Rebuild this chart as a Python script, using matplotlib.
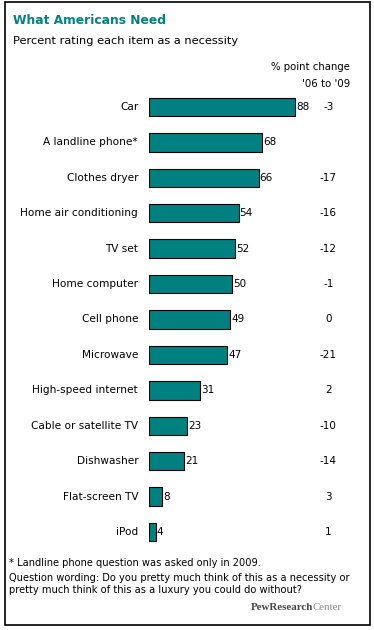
import matplotlib.pyplot as plt
import numpy as np

## -- chart data
items = ["Car", "A landline phone*", "Clothes dryer", "Home air conditioning",
         "TV set", "Home computer", "Cell phone", "Microwave",
         "High-speed internet", "Cable or satellite TV", "Dishwasher",
         "Flat-screen TV", "iPod"]
pct = [88, 68, 66, 54, 52, 50, 49, 47, 31, 23, 21, 8, 4]
change = ["-3", "", "-17", "-16", "-12", "-1", "0", "-21", "2", "-10", "-14", "3", "1"]

teal = '#008080'
W, H = 374, 630
fig = plt.figure(figsize=(W/100., H/100.), dpi=100)
fig.patch.set_facecolor('white')

## -- frame around whole graphic
frame = plt.Rectangle((5/W, 1-625/H), 365/W, 623/H, transform=fig.transFigure,
                      fill=False, ec='black', lw=1.2)
fig.patches.append(frame)

## -- bar axes (pixel layout: left 149, 1.66 px per point)
n = len(items)
top, bot = 107 - 17.7, 532 + 17.7
axp = fig.add_axes([149/W, 1-bot/H, 166/W, (bot-top)/H])
ypos = np.arange(n)
axp.barh(ypos, pct, height=0.52, color=teal, edgecolor='black', lw=0.8)
axp.set_xlim(0, 100)
axp.set_ylim(n-0.5, -0.5)
axp.axis('off')
for y, v, lab in zip(ypos, pct, items):
  axp.text(v+0.6, y, str(v), va='center', ha='left', fontsize=7.5)
  axp.text(-6.5, y, lab, va='center', ha='right', fontsize=7.6)

## -- change column
for y, c in zip(ypos, change):
  axp.text(108, y, c, va='center', ha='center', fontsize=7.5, clip_on=False)

## -- headings
fig.text(13/W, 1-21/H, "What Americans Need", color=teal, fontweight='bold',
         fontsize=8.8, va='center', ha='left')
fig.text(13/W, 1-41/H, "Percent rating each item as a necessity",
         fontsize=8.2, va='center', ha='left')
fig.text(350/W, 1-67/H, "% point change", fontsize=7.3, va='center', ha='right')
fig.text(350/W, 1-84/H, "'06 to '09", fontsize=7.3, va='center', ha='right')

## -- footnotes
fig.text(9/W, 1-563/H, "* Landline phone question was asked only in 2009.",
         fontsize=7.1, va='center', ha='left')
fig.text(9/W, 1-584/H,
         "Question wording: Do you pretty much think of this as a necessity or\n"
         "pretty much think of this as a luxury you could do without?",
         fontsize=7.1, va='center', ha='left', linespacing=1.2)

## -- logo: "PewResearch" bold + "Center" light
ctr = fig.text(342/W, 1-608/H, "Center", fontsize=7.8, family='Liberation Serif',
               color='#888888', va='center', ha='right')
fig.canvas.draw()
bb = ctr.get_window_extent()
fig.text(bb.x0/W, 1-608/H, "PewResearch", fontsize=7.8, family='Liberation Serif',
         fontweight='bold', color='#444444', va='center', ha='right')

plt.savefig('out.png', dpi=100)
